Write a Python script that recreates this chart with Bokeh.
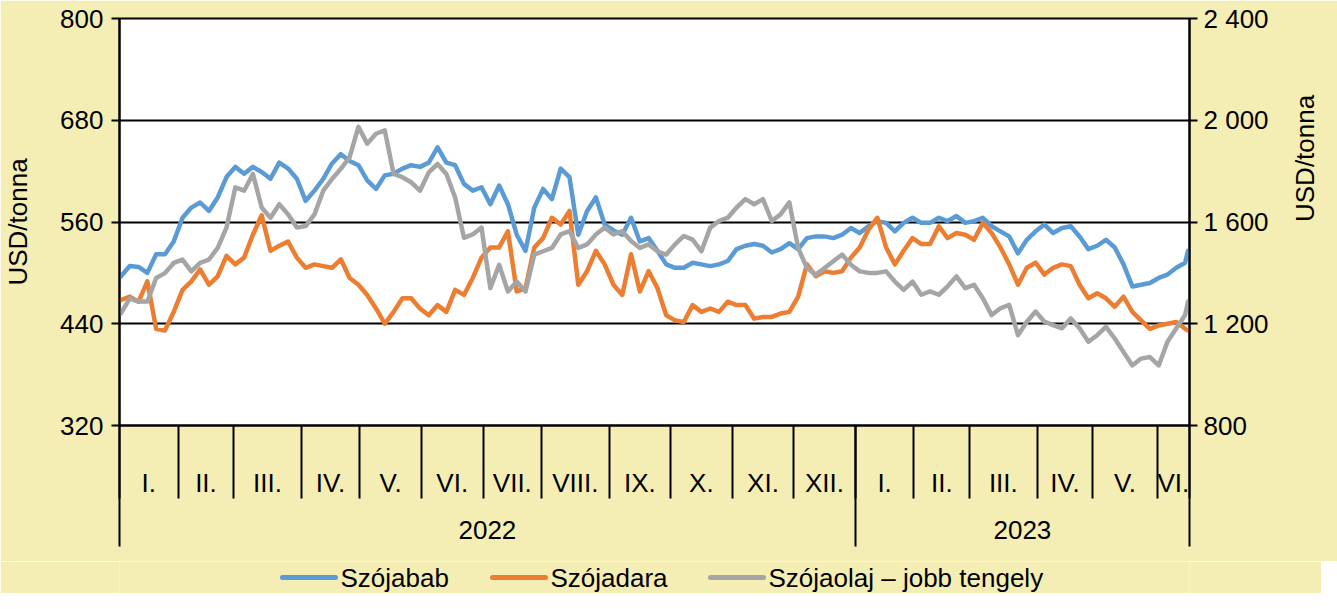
import math
from bokeh.plotting import figure
from bokeh.layouts import column
from bokeh.core.properties import value
from bokeh.models import Range1d, LinearAxis, FixedTicker, ColumnDataSource, Grid
from bokeh.embed import file_html
from bokeh.resources import INLINE

# ---------------- data ----------------
months_2022 = ["I.", "II.", "III.", "IV.", "V.", "VI.", "VII.", "VIII.", "IX.", "X.", "XI.", "XII."]
months_2023 = ["I.", "II.", "III.", "IV.", "V.", "VI."]
month_trading_days = [20, 19, 23, 20, 21, 21, 20, 23, 21, 21, 21, 21,
                      20, 19, 23, 19, 22, 11]
years = ["2022", "2023"]
months_per_year = [12, 6]

left_ticks = [320, 440, 560, 680, 800]
right_ticks = [800, 1200, 1600, 2000, 2400]
right_tick_labels = ["800", "1 200", "1 600", "2 000", "2 400"]

series_names = ["Szójabab", "Szójadara", "Szójaolaj – jobb tengely"]
series_colors = ["#5B9BD5", "#ED7D31", "#A5A5A5"]

# trading-day index of each reading (every third trading day, plus the last one)
sample_day = list(range(0, 364, 3)) + [364]

szojabab = [
    496, 508, 507, 500, 522, 522, 537, 565, 577, 583, 573, 589, 613, 625, 617, 625, 619, 611, 630, 623,
    611, 585, 597, 611, 629, 640, 632, 627, 609, 599, 615,
    617, 623, 627, 625, 630, 648, 630, 627, 605, 597, 601, 581, 603, 581, 545, 526, 577, 599, 587, 623,
    613, 545, 573, 589, 557, 550, 545, 565, 537, 541,
    526, 510, 506, 506, 512, 510, 508, 510, 514, 528, 532, 534, 532, 524, 528, 535, 528, 541, 543, 543,
    541, 545, 553, 547, 555, 561, 559, 549, 559, 565, 559,
    559, 565, 561, 567, 559, 561, 565, 555, 549, 543, 523, 539, 549, 557, 547, 553, 555, 543, 528, 532,
    539, 530, 510, 484, 486, 488, 494, 498, 506, 512, 526,
]
szojadara = [
    468, 472, 466, 490, 434, 432, 454, 480, 490, 504, 486, 496, 520, 510, 518, 545, 568, 526, 532, 537,
    518, 506, 510, 508, 506, 516, 494, 486, 474, 458, 440,
    454, 470, 470, 458, 450, 462, 454, 480, 474, 494, 518, 530, 530, 549, 478, 482, 530, 541, 565, 557,
    573, 486, 502, 526, 510, 486, 474, 522, 478, 502,
    482, 450, 444, 442, 462, 454, 458, 454, 466, 462, 462, 446, 448, 448, 452, 454, 472, 510, 496, 502,
    500, 502, 518, 530, 551, 565, 530, 510, 526, 541, 534,
    534, 555, 541, 547, 545, 539, 559, 547, 530, 510, 486, 506, 512, 498, 506, 510, 508, 486, 470, 476,
    470, 460, 472, 454, 444, 434, 438, 440, 442, 434, 432,
]
szojaolaj = [
    1241, 1300, 1287, 1287, 1380, 1399, 1439, 1452, 1406, 1439, 1452, 1498, 1578, 1736, 1723, 1789, 1657,
    1617, 1670, 1630, 1578, 1584, 1630, 1723, 1769, 1809, 1855, 1974, 1908, 1947, 1960,
    1789, 1776, 1756, 1723, 1795, 1828, 1789, 1696, 1538, 1551, 1578, 1340, 1432, 1327, 1366, 1327, 1472,
    1485, 1498, 1551, 1564, 1498, 1512, 1551, 1578, 1551, 1564, 1525, 1498, 1512,
    1485, 1472, 1512, 1545, 1531, 1485, 1578, 1604, 1617, 1657, 1690, 1670, 1690, 1604, 1630, 1677, 1498,
    1419, 1393, 1419, 1446, 1472, 1432, 1406, 1400, 1400, 1406, 1366, 1333, 1366, 1314,
    1327, 1314, 1347, 1386, 1340, 1353, 1300, 1234, 1261, 1274, 1155, 1208, 1248, 1208, 1195, 1182, 1221,
    1182, 1129, 1155, 1188, 1142, 1089, 1036, 1063, 1069, 1036, 1129, 1182, 1234, 1287,
]

# ---------------- derived category geometry ----------------
month_labels = months_2022 + months_2023
month_bounds = [0]
for d in month_trading_days:
    month_bounds.append(month_bounds[-1] + d)
month_centers = [(a + b) / 2 for a, b in zip(month_bounds[:-1], month_bounds[1:])]
year_bounds = [0]
k = 0
for n in months_per_year:
    k += n
    year_bounds.append(month_bounds[k])
year_centers = [(a + b) / 2 for a, b in zip(year_bounds[:-1], year_bounds[1:])]
n_days = month_bounds[-1]

FONT = "Liberation Sans"
FS = "26px"
BG = "#F5EEB4"
LW = 4.5
B_LEFT, B_RIGHT, FRAME_W = 117, 134, 1070

p = figure(frame_width=FRAME_W, frame_height=407, output_backend="svg", toolbar_location=None,
           x_range=Range1d(0, n_days), y_range=Range1d(left_ticks[0], left_ticks[-1]),
           x_axis_location=None, y_axis_location=None,
           min_border_left=B_LEFT, min_border_right=B_RIGHT, min_border_top=18,
           min_border_bottom=136,
           background_fill_color="white", border_fill_color=BG,
           outline_line_color="black", outline_line_width=2)
p.extra_y_ranges = {"right": Range1d(right_ticks[0], right_ticks[-1])}
for g in p.grid:
    g.visible = False

p.add_layout(Grid(dimension=1, ticker=FixedTicker(ticks=left_ticks),
                  grid_line_color="black", grid_line_width=2))

common = dict(major_label_text_font=FONT, major_label_text_font_size=FS,
              major_label_text_color="black", axis_line_color="black", axis_line_width=2,
              major_tick_line_color="black", major_tick_line_width=2,
              minor_tick_line_color="black", minor_tick_line_width=2,
              axis_label_text_font=FONT, axis_label_text_font_size=FS,
              axis_label_text_font_style="normal", axis_label_text_color="black")

yl = LinearAxis(ticker=FixedTicker(ticks=left_ticks), major_tick_out=8, major_tick_in=0,
                minor_tick_out=0, minor_tick_in=0, major_label_standoff=8,
                axis_label="USD/tonna", axis_label_standoff=24, **common)
p.add_layout(yl, "left")

yr = LinearAxis(y_range_name="right", ticker=FixedTicker(ticks=right_ticks),
                major_label_overrides=dict(zip(right_ticks, right_tick_labels)),
                major_tick_out=8, major_tick_in=0, minor_tick_out=0, minor_tick_in=0,
                major_label_standoff=6, axis_label="USD/tonna", axis_label_standoff=33,
                axis_label_orientation=math.pi / 2, **common)
p.add_layout(yr, "right")

xa = LinearAxis(ticker=FixedTicker(ticks=month_centers, minor_ticks=month_bounds),
                major_label_overrides=dict(zip(month_centers, month_labels)),
                major_tick_out=0, major_tick_in=0, minor_tick_out=73, minor_tick_in=0,
                major_label_standoff=-31, **common)
p.add_layout(xa, "below")

xb_style = dict(common)
xb_style["axis_line_color"] = None
xb = LinearAxis(ticker=FixedTicker(ticks=year_centers, minor_ticks=year_bounds),
                major_label_overrides=dict(zip(year_centers, years)),
                major_tick_out=0, major_tick_in=0, minor_tick_out=46, minor_tick_in=75,
                major_label_standoff=-26, **xb_style)
p.add_layout(xb, "below")

src = ColumnDataSource(dict(x=[d + 0.5 for d in sample_day], bab=szojabab,
                            dara=szojadara, olaj=szojaolaj))
p.line("x", "bab", source=src, line_color=series_colors[0], line_width=LW,
       line_join="round", line_cap="round")
p.line("x", "dara", source=src, line_color=series_colors[1], line_width=LW,
       line_join="round", line_cap="round")
p.line("x", "olaj", source=src, y_range_name="right", line_color=series_colors[2],
       line_width=LW, line_join="round", line_cap="round")

# ---------------- legend strip (separate figure, pixel units, frame aligned with chart) -----
LEG_H = 32
leg = figure(frame_width=FRAME_W, frame_height=LEG_H, output_backend="svg",
             toolbar_location=None,
             x_range=Range1d(B_LEFT, B_LEFT + FRAME_W), y_range=Range1d(0, LEG_H),
             x_axis_location=None, y_axis_location=None,
             min_border_left=B_LEFT, min_border_right=B_RIGHT, min_border_top=0,
             min_border_bottom=0, background_fill_color=BG, border_fill_color=BG,
             outline_line_color=None)
for g in leg.grid:
    g.visible = False
glyph_start = [280, 490, 708]
glyph_len = 53
text_gap = 5
mid = LEG_H / 2
leg.segment(x0=glyph_start, y0=[mid] * 3, x1=[s + glyph_len for s in glyph_start], y1=[mid] * 3,
            line_color=series_colors, line_width=5, line_cap="round")
leg.text(x=[s + glyph_len + text_gap for s in glyph_start], y=[mid] * 3, text=series_names,
         text_font=value(FONT), text_font_size=value(FS), text_color="black",
         text_align="left", text_baseline="middle")

layout = column(p, leg, spacing=0)
open("out.html", "w").write(file_html(layout, INLINE))
